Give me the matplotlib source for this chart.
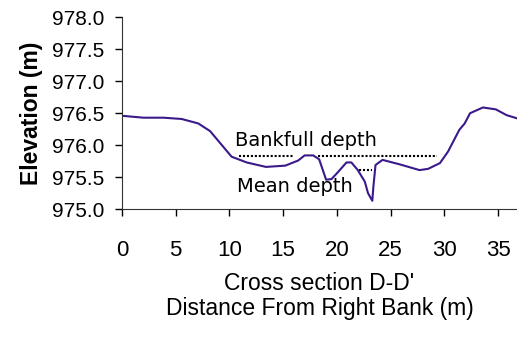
import matplotlib
matplotlib.use('Agg')
import matplotlib.pyplot as plt

# Cross section D-D' profile
distance = [0.0, 2.0, 3.85, 5.55, 7.1, 8.2, 9.1, 10.2, 11.6, 13.4, 15.2, 16.4,
            17.0, 17.8, 18.35, 19.0, 19.5, 19.95, 20.9, 21.35, 21.95, 22.6,
            22.9, 23.3, 23.4, 23.6, 24.25, 25.85, 27.7, 28.5, 29.6, 30.35,
            31.4, 31.9, 32.4, 33.6, 34.8, 35.8, 36.77]
elevation = [976.46, 976.43, 976.43, 976.41, 976.34, 976.22, 976.04, 975.82,
             975.73, 975.66, 975.68, 975.76, 975.84, 975.84, 975.78, 975.46,
             975.47, 975.55, 975.73, 975.73, 975.61, 975.43, 975.25, 975.13,
             975.35, 975.69, 975.77, 975.70, 975.61, 975.63, 975.72, 975.90,
             976.24, 976.34, 976.50, 976.59, 976.56, 976.47, 976.42]

# reference levels
bankfull_level = 975.83
bankfull_segments = [(10.9, 15.9), (18.2, 29.3)]
mean_level = 975.61
mean_segment = (22.1, 23.3)

x_ticks = [0, 5, 10, 15, 20, 25, 30, 35]
y_ticks = [975.0, 975.5, 976.0, 976.5, 977.0, 977.5, 978.0]

plt.rcParams['font.family'] = ['Liberation Sans', 'DejaVu Sans']

fig = plt.figure(figsize=(5.17, 3.40), dpi=100)
ax = fig.add_axes([0.236, 0.385, 0.764, 0.564])

ax.plot(distance, elevation, color='#3a1a8a', lw=1.5)

dots = dict(color='black', lw=1.5, linestyle=(0, (1, 0.9)))
for x0, x1 in bankfull_segments:
    ax.plot([x0, x1], [bankfull_level, bankfull_level], **dots)
ax.plot(list(mean_segment), [mean_level, mean_level], **dots)

ax.text(10.5, 975.98, 'Bankfull depth', fontsize=14, family='DejaVu Sans')
ax.text(10.7, 975.275, 'Mean depth', fontsize=14, family='DejaVu Sans')

ax.set_xlim(0, 36.77)
ax.set_ylim(975.0, 978.0)
ax.set_xticks(x_ticks)
ax.set_yticks(y_ticks)
ax.set_yticklabels(['%.1f' % v for v in y_ticks])
ax.tick_params(axis='x', direction='out', length=5, width=1, pad=17, labelsize=16)
ax.tick_params(axis='y', direction='out', length=5, width=1, pad=8, labelsize=15)

for side in ['top', 'right']:
    ax.spines[side].set_visible(False)
for side in ['left', 'bottom']:
    ax.spines[side].set_color('#333333')

ax.set_xlabel("Cross section D-D'\nDistance From Right Bank (m)", fontsize=16.5,
              linespacing=1.15, labelpad=8)
ax.set_ylabel('Elevation (m)', fontsize=16.5, fontweight='bold', labelpad=6)

fig.savefig('out.png', dpi=100)
